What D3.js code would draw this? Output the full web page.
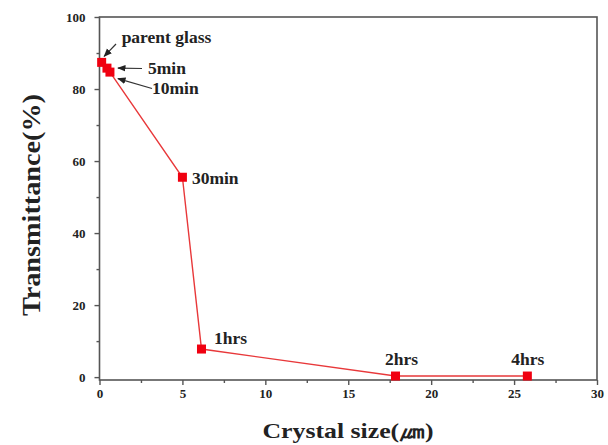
<!DOCTYPE html>
<html>
<head>
<meta charset="utf-8">
<script src="https://cdn.jsdelivr.net/npm/d3@7"></script>
<style>
  body { margin: 0; background: #fff; }
  svg text { font-family: "Liberation Serif", "Times New Roman", serif; font-weight: bold; fill: #222; }
</style>
</head>
<body>
<svg id="chart" width="608" height="445"></svg>
<script>
// Heat-treatment stages: crystal size (µm) vs. transmittance (%)
const stages = ["parent glass", "5min", "10min", "30min", "1hrs", "2hrs", "4hrs"];
const crystalSize = [0.13, 0.45, 0.63, 5.0, 6.15, 17.85, 25.8];
const transmittance = [87.4, 85.8, 84.7, 55.5, 7.8, 0.3, 0.3];
const xTicks = [0, 5, 10, 15, 20, 25, 30];
const yTicks = [0, 20, 40, 60, 80, 100];

const svg = d3.select("#chart");
const m = { left: 99.5, right: 597, top: 17, bottom: 380 };

const x = d3.scaleLinear().domain([0, 30]).range([m.left, m.right]);
const y = d3.scaleLinear().domain([-0.8, 100]).range([m.bottom, m.top]);

const axisColor = "#555";

// frame
svg.append("rect")
  .attr("x", m.left).attr("y", m.top)
  .attr("width", m.right - m.left).attr("height", m.bottom - m.top)
  .attr("fill", "none").attr("stroke", axisColor).attr("stroke-width", 1.6);

// minor ticks
const xMinor = d3.range(2.5, 30, 5);
const yMinor = d3.range(10, 100, 20);

const gx = svg.append("g").attr("transform", `translate(0,${m.bottom})`)
  .call(d3.axisBottom(x).tickValues(xTicks).tickSize(5).tickPadding(4).tickFormat(d3.format("d")));
gx.select(".domain").remove();
gx.selectAll(".tick line").attr("stroke", axisColor).attr("stroke-width", 1.4);
gx.selectAll("text").attr("font-size", 13).attr("fill", "#222");

svg.append("g").attr("transform", `translate(0,${m.bottom})`)
  .call(d3.axisBottom(x).tickValues(xMinor).tickSize(3).tickFormat(""))
  .call(g => g.select(".domain").remove())
  .selectAll(".tick line").attr("stroke", axisColor).attr("stroke-width", 1.4);

const gy = svg.append("g").attr("transform", `translate(${m.left},0)`)
  .call(d3.axisLeft(y).tickValues(yTicks).tickSize(5).tickPadding(9).tickFormat(d3.format("d")));
gy.select(".domain").remove();
gy.selectAll(".tick line").attr("stroke", axisColor).attr("stroke-width", 1.4);
gy.selectAll("text").attr("font-size", 13).attr("fill", "#222");

svg.append("g").attr("transform", `translate(${m.left},0)`)
  .call(d3.axisLeft(y).tickValues(yMinor).tickSize(3).tickFormat(""))
  .call(g => g.select(".domain").remove())
  .selectAll(".tick line").attr("stroke", axisColor).attr("stroke-width", 1.4);

// axis titles
svg.append("text")
  .attr("x", 348).attr("y", 438)
  .attr("text-anchor", "middle").attr("font-size", 22)
  .attr("textLength", 171).attr("lengthAdjust", "spacingAndGlyphs")
  .text("Crystal size(㎛)");

svg.append("text")
  .attr("transform", `translate(40,205) rotate(-90)`)
  .attr("text-anchor", "middle").attr("font-size", 25)
  .attr("textLength", 222).attr("lengthAdjust", "spacingAndGlyphs")
  .text("Transmittance(%)");

// data line and markers
const pts = stages.map((s, i) => ({ s, cx: crystalSize[i], t: transmittance[i] }));

svg.append("path")
  .datum(pts)
  .attr("d", d3.line().x(d => x(d.cx)).y(d => y(d.t)))
  .attr("fill", "none").attr("stroke", "#e8383a").attr("stroke-width", 1.4);

svg.selectAll("rect.pt").data(pts).join("rect")
  .attr("class", "pt")
  .attr("x", d => x(d.cx) - 4.5).attr("y", d => y(d.t) - 4.5)
  .attr("width", 9).attr("height", 9)
  .attr("fill", "#f00010");

// arrow marker
svg.append("defs").append("marker")
  .attr("id", "arrow").attr("viewBox", "0 0 10 10")
  .attr("refX", 9).attr("refY", 5)
  .attr("markerWidth", 7).attr("markerHeight", 7)
  .attr("orient", "auto-start-reverse")
  .append("path").attr("d", "M0,1 L10,5 L0,9 Z").attr("fill", "#222");

// leader arrows for the clustered early points
const arrows = [
  { i: 0, x1: 116, y1: 44, dx: 2.5, dy: -6 },
  { i: 1, x1: 142, y1: 68.5, dx: 11, dy: 0 },
  { i: 2, x1: 152, y1: 88.5, dx: 8, dy: 6.5 }
];
arrows.forEach(a => {
  const px = x(crystalSize[a.i]) + a.dx, py = y(transmittance[a.i]) + a.dy;
  svg.append("line")
    .attr("x1", a.x1).attr("y1", a.y1).attr("x2", px).attr("y2", py)
    .attr("stroke", "#333").attr("stroke-width", 1.2)
    .attr("marker-end", "url(#arrow)");
});

// stage labels, offset from each point
const labelPos = [
  { dx: 20, dy: -19 },
  { dx: 41, dy: 6 },
  { dx: 42, dy: 22 },
  { dx: 9.5, dy: 7 },
  { dx: 12.5, dy: -5.5 },
  { dx: -10.5, dy: -11 },
  { dx: -16, dy: -11 }
];
svg.selectAll("text.lbl").data(pts).join("text")
  .attr("class", "lbl")
  .attr("x", (d, i) => x(d.cx) + labelPos[i].dx)
  .attr("y", (d, i) => y(d.t) + labelPos[i].dy)
  .attr("font-size", 17.5)
  .text(d => d.s);
</script>
</body>
</html>
